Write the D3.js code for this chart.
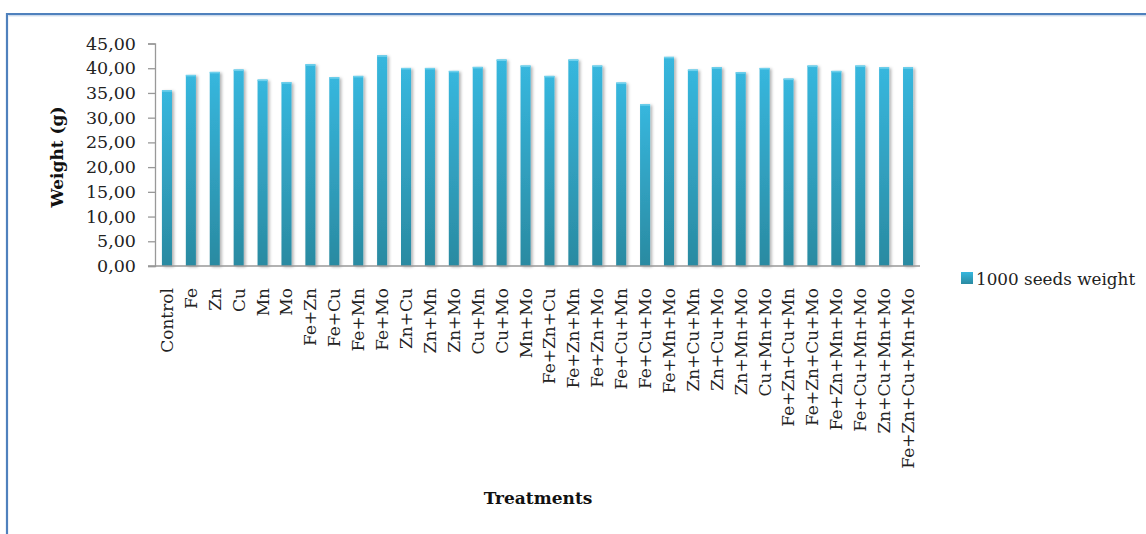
<!DOCTYPE html>
<html><head><meta charset="utf-8">
<script src="https://cdn.jsdelivr.net/npm/d3@7"></script>
<style>html,body{margin:0;padding:0;background:#fff;}svg{display:block;}</style>
</head><body>
<svg id="chart" width="1146" height="534"></svg>
<script>
const categories = ["Control","Fe","Zn","Cu","Mn","Mo","Fe+Zn","Fe+Cu","Fe+Mn","Fe+Mo",
  "Zn+Cu","Zn+Mn","Zn+Mo","Cu+Mn","Cu+Mo","Mn+Mo",
  "Fe+Zn+Cu","Fe+Zn+Mn","Fe+Zn+Mo","Fe+Cu+Mn","Fe+Cu+Mo","Fe+Mn+Mo",
  "Zn+Cu+Mn","Zn+Cu+Mo","Zn+Mn+Mo","Cu+Mn+Mo",
  "Fe+Zn+Cu+Mn","Fe+Zn+Cu+Mo","Fe+Zn+Mn+Mo","Fe+Cu+Mn+Mo","Zn+Cu+Mn+Mo","Fe+Zn+Cu+Mn+Mo"];
const seedWeight = [35.55,38.65,39.26,39.73,37.70,37.17,40.80,38.18,38.45,42.60,
  40.06,40.06,39.46,40.27,41.76,40.54,
  38.45,41.76,40.54,37.10,32.72,42.30,
  39.73,40.20,39.19,40.06,
  37.90,40.54,39.46,40.54,40.20,40.20];
const yTicks = [0,5,10,15,20,25,30,35,40,45];
const seriesName = "1000 seeds weight";
const yTitle = "Weight (g)";
const xTitle = "Treatments";

const svg = d3.select("#chart");
const font = "'DejaVu Serif', serif";
const L = 155, R = 920, T = 43.5, B = 266;

const defs = svg.append("defs");
const grad = defs.append("linearGradient").attr("id","barGrad").attr("x1",0).attr("y1",0).attr("x2",0).attr("y2",1);
grad.append("stop").attr("offset","0%").attr("stop-color","#37b7de");
grad.append("stop").attr("offset","100%").attr("stop-color","#2a8aa1");
const lgrad = defs.append("linearGradient").attr("id","legGrad").attr("x1",0).attr("y1",0).attr("x2",0).attr("y2",1);
lgrad.append("stop").attr("offset","0%").attr("stop-color","#37b7de");
lgrad.append("stop").attr("offset","100%").attr("stop-color","#2a8aa1");
const f = defs.append("filter").attr("id","shadow").attr("x","-50%").attr("y","-10%").attr("width","200%").attr("height","130%");
f.append("feDropShadow").attr("dx",2).attr("dy",1).attr("stdDeviation",1.5).attr("flood-color","#000").attr("flood-opacity",0.3);
const gs = defs.append("filter").attr("id","gshadow").attr("x","0").attr("y","-100%").attr("width","100%").attr("height","400%");
gs.append("feDropShadow").attr("dx",0).attr("dy",1.5).attr("stdDeviation",1).attr("flood-color","#000").attr("flood-opacity",0.2);

// border
svg.append("line").attr("x1",7).attr("x2",1146).attr("y1",14).attr("y2",14).attr("stroke","#4f81bd").attr("stroke-width",2.2);
svg.append("line").attr("x1",7).attr("x2",7).attr("y1",13).attr("y2",534).attr("stroke","#4f81bd").attr("stroke-width",2.2);
svg.append("line").attr("x1",8.5).attr("x2",1146).attr("y1",15.8).attr("y2",15.8).attr("stroke","#b8cce4").attr("stroke-width",1);

const x = d3.scaleBand().domain(categories).range([L,R]).paddingInner(0.58).paddingOuter(0.29);
const y = d3.scaleLinear().domain([0,45]).range([B,T]);

// gridlines
const grid = svg.append("g");
grid.selectAll("line").data(yTicks.filter(d=>d>0)).join("line")
  .attr("x1",L-7).attr("x2",R).attr("y1",d=>y(d)).attr("y2",d=>y(d))
  .attr("stroke","#999").attr("stroke-width",1.3).attr("filter","url(#gshadow)");

// bars
svg.append("g").selectAll("rect").data(categories).join("rect")
  .attr("x",d=>x(d)).attr("width",x.bandwidth())
  .attr("y",(d,i)=>y(seedWeight[i])).attr("height",(d,i)=>B-y(seedWeight[i]))
  .attr("fill","url(#barGrad)").attr("filter","url(#shadow)");
svg.append("g").selectAll("rect").data(categories).join("rect")
  .attr("x",d=>x(d)).attr("width",x.bandwidth())
  .attr("y",(d,i)=>y(seedWeight[i])).attr("height",1.5)
  .attr("fill","#6fd0ec");

// y axis
const yAxis = d3.axisLeft(y).tickValues(yTicks).tickSize(7).tickPadding(12)
  .tickFormat(d=>d3.format(".2f")(d).replace(".",","));
const ya = svg.append("g").attr("transform",`translate(${L},0)`).call(yAxis);
ya.select(".domain").attr("stroke","#999").attr("stroke-width",1.3);
ya.selectAll(".tick line").attr("stroke","#999").attr("stroke-width",1.3);
ya.selectAll("text").attr("font-family",font).attr("font-size","17.5px").attr("fill","#222");

// x axis
const xAxis = d3.axisBottom(x).tickSize(0).tickPadding(0);
const xa = svg.append("g").attr("transform",`translate(0,${B})`).call(xAxis);
xa.select(".domain").attr("stroke","#999").attr("stroke-width",1.3).attr("d",`M${L-7},0H${R}`);
xa.selectAll("text").attr("font-family",font).attr("font-size","17px").attr("fill","#222")
  .attr("text-anchor","end").attr("transform","rotate(-90)")
  .attr("x",-22).attr("y",0).attr("dy","0.35em");

// titles
svg.append("text").attr("transform",`translate(63,157) rotate(-90)`).attr("text-anchor","middle")
  .attr("font-family",font).attr("font-weight","bold").attr("font-size","17px").attr("fill","#111").text(yTitle);
svg.append("text").attr("x",538).attr("y",504).attr("text-anchor","middle")
  .attr("font-family",font).attr("font-weight","bold").attr("font-size","17px").attr("fill","#111").text(xTitle);

// legend
svg.append("rect").attr("x",961).attr("y",272).attr("width",12).attr("height",12).attr("fill","url(#legGrad)");
svg.append("text").attr("x",976).attr("y",284.5).attr("font-family",font).attr("font-size","16.8px").attr("fill","#222").text(seriesName);
</script>
</body></html>
